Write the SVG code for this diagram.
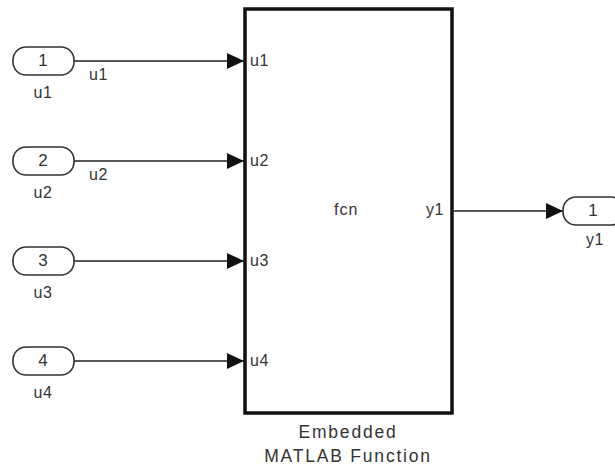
<svg xmlns="http://www.w3.org/2000/svg" width="615" height="467" viewBox="0 0 615 467">
<style>
text{font-family:"Liberation Sans",Arial,sans-serif;fill:#333;}
.num{font-size:17px;text-anchor:middle;}
.nm{font-size:16px;text-anchor:middle;letter-spacing:0.5px;}
.pl{font-size:16px;letter-spacing:0.5px;}
.cap{font-size:17.5px;text-anchor:middle;letter-spacing:1.8px;}
.port{fill:#fff;stroke:#333;stroke-width:1.6;}
.wire{stroke:#222;stroke-width:1.6;fill:none;}
.blk{fill:#fff;stroke:#111;stroke-width:3.5;}
</style>
<defs>
<marker id="ah" markerUnits="userSpaceOnUse" markerWidth="18" markerHeight="16" refX="17" refY="8" orient="auto">
<path d="M0,0 L17,8 L0,16 Z" fill="#111"/>
</marker>
</defs>
<rect width="615" height="467" fill="#fff"/>
<g id="connectors">
<line class="wire" x1="74" y1="61" x2="244" y2="61" marker-end="url(#ah)"/>
<line class="wire" x1="74" y1="161" x2="244" y2="161" marker-end="url(#ah)"/>
<line class="wire" x1="74" y1="261" x2="244" y2="261" marker-end="url(#ah)"/>
<line class="wire" x1="74" y1="361" x2="244" y2="361" marker-end="url(#ah)"/>
<line class="wire" x1="454" y1="211" x2="563" y2="211" marker-end="url(#ah)"/>
<text class="pl" x="89" y="80">u1</text>
<text class="pl" x="89" y="180">u2</text>
</g>
<g id="in1">
<rect class="port" x="13" y="47" width="61" height="28" rx="13" ry="13"/>
<text class="num" x="43" y="66">1</text>
<text class="nm" x="43" y="98">u1</text>
</g>
<g id="in2">
<rect class="port" x="13" y="147" width="61" height="28" rx="13" ry="13"/>
<text class="num" x="43" y="166">2</text>
<text class="nm" x="43" y="198">u2</text>
</g>
<g id="in3">
<rect class="port" x="13" y="247" width="61" height="28" rx="13" ry="13"/>
<text class="num" x="43" y="266">3</text>
<text class="nm" x="43" y="298">u3</text>
</g>
<g id="in4">
<rect class="port" x="13" y="347" width="61" height="28" rx="13" ry="13"/>
<text class="num" x="43" y="366">4</text>
<text class="nm" x="43" y="398">u4</text>
</g>
<g id="fcn">
<rect class="blk" x="245" y="9" width="207" height="404"/>
<text class="pl" x="250" y="66">u1</text>
<text class="pl" x="250" y="166">u2</text>
<text class="pl" x="250" y="266">u3</text>
<text class="pl" x="250" y="366">u4</text>
<text class="pl" x="334" y="215" style="letter-spacing:1px">fcn</text>
<text class="pl" x="444" y="215" text-anchor="end">y1</text>
<text class="cap" x="348" y="438">Embedded</text>
<text class="cap" x="348" y="462">MATLAB Function</text>
</g>
<g id="out1">
<rect class="port" x="563" y="197" width="61" height="28" rx="13" ry="13"/>
<text class="num" x="593" y="216">1</text>
<text class="nm" x="595" y="245">y1</text>
</g>
</svg>
